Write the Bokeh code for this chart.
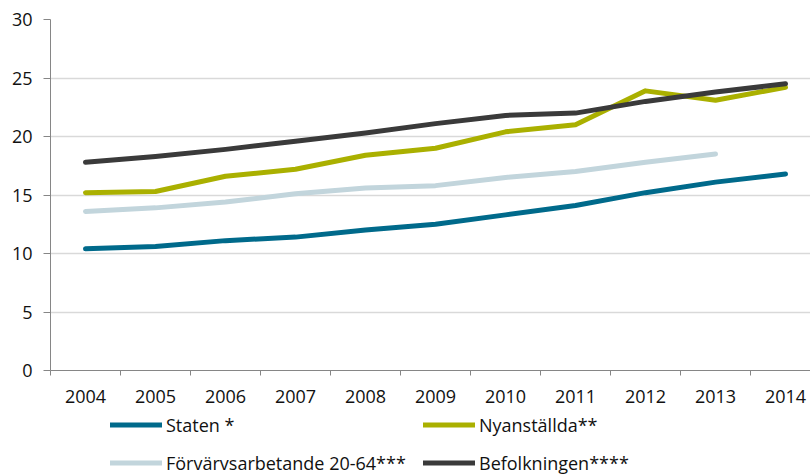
from bokeh.plotting import figure
from bokeh.layouts import column
from bokeh.models import Range1d, FixedTicker, Legend, LegendItem
from bokeh.embed import file_html
from bokeh.resources import INLINE

years = [2004, 2005, 2006, 2007, 2008, 2009, 2010, 2011, 2012, 2013, 2014]
staten = [10.4, 10.6, 11.1, 11.4, 12.0, 12.5, 13.3, 14.1, 15.2, 16.1, 16.8]
nyanstallda = [15.2, 15.3, 16.6, 17.2, 18.4, 19.0, 20.4, 21.0, 23.9, 23.1, 24.2]
forvarvs = [13.6, 13.9, 14.4, 15.1, 15.6, 15.8, 16.5, 17.0, 17.8, 18.5, float("nan")]
befolkningen = [17.8, 18.3, 18.9, 19.6, 20.3, 21.1, 21.8, 22.0, 23.0, 23.8, 24.5]
y_ticks = [0, 5, 10, 15, 20, 25, 30]

names = ["Staten *", "Nyanställda**", "Förvärvsarbetande 20-64***", "Befolkningen****"]
series = [staten, nyanstallda, forvarvs, befolkningen]
colors = ["#006a8b", "#aab000", "#c2d5dc", "#3a3a3a"]

FONT = "Open Sans"
TXT = "#111111"

p = figure(frame_width=760, frame_height=351, output_backend="svg", toolbar_location=None,
           x_range=Range1d(2003.5, 2014.357), y_range=Range1d(0, 30),
           min_border_left=50, min_border_right=0, min_border_top=19, min_border_bottom=42)
p.outline_line_color = None
p.background_fill_color = "white"
p.border_fill_color = "white"

for vals, col in zip(series, colors):
    p.line(years, vals, line_color=col, line_width=5, line_cap="round", line_join="round")

p.xgrid.visible = False
p.ygrid.grid_line_color = "#d9d9d9"
p.ygrid.grid_line_width = 1.5
p.ygrid.ticker = FixedTicker(ticks=y_ticks)

xa = p.xaxis[0]
xa.ticker = FixedTicker(ticks=years, minor_ticks=[y - 0.5 for y in years] + [2014.5])
xa.major_tick_line_color = None
xa.minor_tick_line_color = "#868686"
xa.minor_tick_out = 5
xa.minor_tick_in = 0
xa.axis_line_color = "#868686"
xa.major_label_standoff = 13
xa.major_label_text_font = FONT
xa.major_label_text_font_size = "18px"
xa.major_label_text_color = TXT

ya = p.yaxis[0]
ya.ticker = FixedTicker(ticks=y_ticks)
ya.major_tick_out = 7
ya.major_tick_in = 0
ya.major_tick_line_color = "#868686"
ya.minor_tick_line_color = None
ya.axis_line_color = "#868686"
ya.major_label_standoff = 11
ya.major_label_text_font = FONT
ya.major_label_text_font_size = "18px"
ya.major_label_text_color = TXT

# legend strip below the chart (series drawn out of view, only the legend shows)
p2 = figure(width=810, height=62, output_backend="svg", toolbar_location=None,
            x_range=Range1d(2003.5, 2014.357), y_range=Range1d(100, 101),
            min_border_left=0, min_border_right=0, min_border_top=0, min_border_bottom=0)
p2.axis.visible = False
p2.grid.visible = False
p2.outline_line_color = None
p2.border_fill_color = "white"

leg_lines = [p2.line(years, vals, line_color=col, line_width=5, line_cap="round")
             for vals, col in zip(series, colors)]
items = [LegendItem(label=n, renderers=[r]) for n, r in zip(names, leg_lines)]
legend = Legend(items=items, ncols=2, orientation="horizontal", location=(60, -1),
                margin=0, padding=0, spacing=13,
                glyph_width=52, glyph_height=25, label_height=25, label_width=244,
                label_standoff=4,
                label_text_font=FONT, label_text_font_size="18px", label_text_color=TXT,
                border_line_color=None, background_fill_alpha=0)
p2.add_layout(legend, "center")

layout = column(p, p2, spacing=0)
open("out.html", "w").write(file_html(layout, INLINE))
